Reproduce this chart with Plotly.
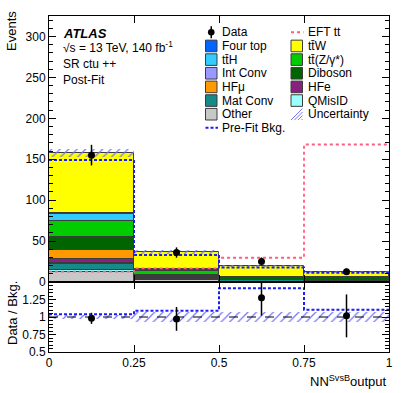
import numpy as np
import plotly.graph_objects as go

# binning of the NN output
bin_edges = [0.0, 0.25, 0.5, 0.75, 1.0]
bin_centres = [0.125, 0.375, 0.625, 0.875]

# post-fit backgrounds (events), stacked bottom -> top
other = [12.5, 2.0, 0.4, 0.2]
qmisid = [2.0, 0.6, 0.2, 0.1]
mat_conv = [7.5, 1.6, 1.4, 1.5]
int_conv = [1.0, 0.3, 0.1, 0.1]
hfe = [5.0, 0.6, 0.3, 0.2]
hfmu = [11.5, 0.6, 0.3, 0.2]
diboson = [15.0, 2.8, 1.7, 2.5]
ttz = [20.0, 4.9, 1.5, 1.2]
tth = [9.0, 1.8, 0.5, 0.4]
four_top = [0.5, 0.3, 0.1, 0.1]
ttw = [74.0, 21.5, 13.1, 5.9]

bkg_uncert = [5.0, 2.5, 1.4, 0.9]
prefit_bkg = [149.0, 33.0, 17.7, 11.4]
eft_tt = [12.6, 16.7, 29.6, 168.0]

data = [155.0, 36.0, 25.0, 12.6]
data_err = [12.6, 6.3, 5.0, 3.8]

stack = [
    ("Other", other), ("QMisID", qmisid), ("Mat Conv", mat_conv),
    ("Int Conv", int_conv), ("HFe", hfe), ("HFμ", hfmu),
    ("Diboson", diboson), ("tt̄(Z/γ*)", ttz), ("tt̄H", tth),
    ("Four top", four_top), ("tt̄W", ttw),
]

colours = {
    "Other": "#c8c8c8", "QMisID": "#99ffff", "Mat Conv": "#158a87",
    "Int Conv": "#9999ff", "HFe": "#88217d", "HFμ": "#ff9900",
    "Diboson": "#006400", "tt̄(Z/γ*)": "#00cc00", "tt̄H": "#33ccff",
    "Four top": "#0066ff", "tt̄W": "#ffff00",
}
HATCH = "#7474ff"
EFT_COL = "#ff5c80"
PREFIT_COL = "#1a1aff"
FONT = "Liberation Sans, Arial, sans-serif"

total = np.sum([v for _, v in stack], axis=0)
unc = np.array(bkg_uncert)

fig = go.Figure()

# stacked histogram, drawn with explicit bases
base = np.zeros(len(bin_centres))
for name, vals in stack:
    fig.add_trace(go.Bar(
        x=bin_centres, y=vals, base=base.copy(), width=0.25,
        marker=dict(color=colours[name], line=dict(color="#3c3c3c", width=1)),
        xaxis="x", yaxis="y", hoverinfo="skip"))
    base += np.array(vals)

# uncertainty band
fig.add_trace(go.Bar(
    x=bin_centres, y=2 * unc, base=total - unc, width=0.25,
    marker=dict(color="rgba(0,0,0,0)", line=dict(width=0),
                pattern=dict(shape="/", fgcolor=HATCH, bgcolor="rgba(0,0,0,0)",
                             size=6, solidity=0.2)),
    xaxis="x", yaxis="y", hoverinfo="skip"))

# step lines
fig.add_trace(go.Scatter(
    x=bin_edges, y=eft_tt + [eft_tt[-1]], mode="lines", line_shape="hv",
    line=dict(color=EFT_COL, dash="dot", width=1.8), xaxis="x", yaxis="y"))
fig.add_trace(go.Scatter(
    x=bin_edges, y=prefit_bkg + [prefit_bkg[-1]], mode="lines", line_shape="hv",
    line=dict(color=PREFIT_COL, dash="3px,2px", width=2), xaxis="x", yaxis="y"))

# data
fig.add_trace(go.Scatter(
    x=bin_centres, y=data, mode="markers",
    marker=dict(color="black", size=7),
    error_y=dict(type="data", array=data_err, width=0, thickness=1.5, color="black"),
    xaxis="x", yaxis="y"))

# ratio panel
data_arr = np.array(data)
ratio = data_arr / total
ratio_err = np.array(data_err) / total
rel_unc = unc / total
prefit_ratio = data_arr / np.array(prefit_bkg)

fig.add_trace(go.Bar(
    x=bin_centres, y=2 * rel_unc, base=1 - rel_unc, width=0.25,
    marker=dict(color="rgba(0,0,0,0)", line=dict(width=0),
                pattern=dict(shape="/", fgcolor=HATCH, bgcolor="rgba(0,0,0,0)",
                             size=6, solidity=0.2)),
    xaxis="x2", yaxis="y2", hoverinfo="skip"))
fig.add_shape(type="line", xref="x2", yref="y2", x0=0, x1=1, y0=1, y1=1,
              line=dict(color="black", dash="dash", width=1))
fig.add_trace(go.Scatter(
    x=bin_edges, y=list(prefit_ratio) + [prefit_ratio[-1]], mode="lines",
    line_shape="hv", line=dict(color=PREFIT_COL, dash="3px,2px", width=2),
    xaxis="x2", yaxis="y2"))
fig.add_trace(go.Scatter(
    x=bin_centres, y=ratio, mode="markers",
    marker=dict(color="black", size=7),
    error_y=dict(type="data", array=ratio_err, width=0, thickness=1.5, color="black"),
    xaxis="x2", yaxis="y2"))

axis_common = dict(showgrid=False, zeroline=False, showline=True, linecolor="black",
                   linewidth=1, mirror="allticks", ticks="inside", tickcolor="black",
                   ticklen=7, automargin=False, tickfont=dict(size=12, color="black"))

split = 70 / 336
fig.update_layout(
    template="none",
    width=407, height=393, margin=dict(l=49, r=18, t=16, b=41, autoexpand=False),
    barmode="overlay", bargap=0, showlegend=False,
    plot_bgcolor="white", paper_bgcolor="white",
    font=dict(family=FONT, size=12, color="black"),
    xaxis=dict(domain=[0, 1], anchor="y", range=[0, 1], showticklabels=False,
               tickvals=[0, 0.25, 0.5, 0.75, 1], **axis_common),
    yaxis=dict(domain=[split, 1], anchor="x", range=[0, 325], dtick=50,
               minor=dict(ticks="inside", ticklen=4, dtick=10, tickcolor="black"),
               **axis_common),
    xaxis2=dict(domain=[0, 1], anchor="y2", range=[0, 1],
                tickvals=[0, 0.25, 0.5, 0.75, 1],
                ticktext=["0", "0.25", "0.5", "0.75", "1"], **axis_common),
    yaxis2=dict(domain=[0, split], anchor="x2", range=[0.5, 1.5],
                tickvals=[0.5, 0.75, 1, 1.25], ticktext=["0.5", "0.75", "1", "1.25"],
                minor=dict(ticks="inside", ticklen=4, dtick=0.05, tickcolor="black"),
                **axis_common),
)


def px_x(p):
    return (p - 49) / 340


def px_y(p):
    return (352 - p) / 336


def label(text, x, y, size=12, xanchor="left", **kw):
    fig.add_annotation(xref="paper", yref="paper", x=px_x(x), y=px_y(y), text=text,
                       showarrow=False, xanchor=xanchor, yanchor="middle",
                       font=dict(family=FONT, size=size, color="black"), **kw)


# axis titles
label("Events", 12, 31, size=13, xanchor="center", textangle=-90)
label("Data / Bkg.", 12, 313, size=13, xanchor="center", textangle=-90)
label("NN<sup>SvsB</sup>output", 389, 381, size=13, xanchor="right")

# ATLAS label block
label("<b><i>ATLAS</i></b>", 61, 33, size=13)
label("√s = 13 TeV, 140 fb<sup>-1</sup>", 61, 47, size=12)
label("SR ctu ++", 61, 64, size=12)
label("Post-Fit", 61, 80, size=12)

# legend, drawn as two columns
left_col = ["Data", "Four top", "tt̄H", "Int Conv", "HFμ", "Mat Conv", "Other", "Pre-Fit Bkg."]
right_col = ["EFT tt", "tt̄W", "tt̄(Z/γ*)", "Diboson", "HFe", "QMisID", "Uncertainty"]
row0, row_step = 32.3, 13.65


def legend_entry(name, bx, y):
    x0, x1 = bx, bx + 11.5
    if name in colours:
        fig.add_shape(type="rect", xref="paper", yref="paper",
                      x0=px_x(x0), x1=px_x(x1), y0=px_y(y + 5.8), y1=px_y(y - 5.8),
                      fillcolor=colours[name], line=dict(color="#3c3c3c", width=1))
    elif name == "Data":
        xm = (x0 + x1) / 2
        fig.add_shape(type="line", xref="paper", yref="paper",
                      x0=px_x(xm), x1=px_x(xm), y0=px_y(y + 6), y1=px_y(y - 6),
                      line=dict(color="black", width=1.5))
        fig.add_shape(type="circle", xref="paper", yref="paper",
                      x0=px_x(xm - 3.3), x1=px_x(xm + 3.3), y0=px_y(y + 3.3), y1=px_y(y - 3.3),
                      fillcolor="black", line=dict(color="black", width=0))
    elif name in ("EFT tt", "Pre-Fit Bkg."):
        col = EFT_COL if name == "EFT tt" else PREFIT_COL
        dash = "dot" if name == "EFT tt" else "3px,2px"
        fig.add_shape(type="line", xref="paper", yref="paper",
                      x0=px_x(x0), x1=px_x(x1 + 1), y0=px_y(y), y1=px_y(y),
                      line=dict(color=col, width=2, dash=dash))
    else:  # hatched uncertainty
        for k in range(4):
            s = k * 3.5
            xe = min(x1, x0 + s + 11.5)
            fig.add_shape(type="line", xref="paper", yref="paper",
                          x0=px_x(x0 + s), x1=px_x(xe),
                          y0=px_y(y + 5.8), y1=px_y(y + 5.8 - (xe - x0 - s)),
                          line=dict(color=HATCH, width=1))
    label(name, x1 + 3, y, size=12)


for i, name in enumerate(left_col):
    legend_entry(name, 205.5, row0 + i * row_step)
for i, name in enumerate(right_col):
    legend_entry(name, 291, row0 + i * row_step)

# drop the default page margin so the figure sits at the window origin
fig.write_html("out.html", config={"displayModeBar": False},
               post_script="document.body.style.margin='0';")
